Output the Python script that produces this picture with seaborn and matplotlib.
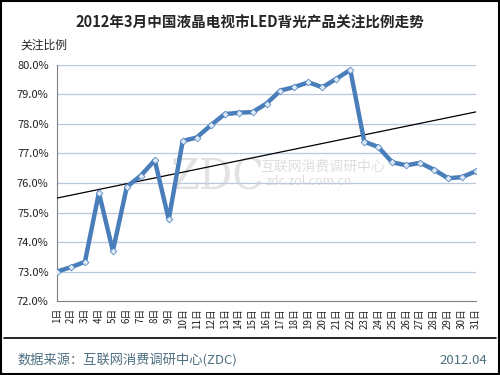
import matplotlib
matplotlib.use("Agg")
import matplotlib.pyplot as plt
import numpy as np
import pandas as pd
import seaborn as sns

days = [f"{i}日" for i in range(1, 32)]
share = [73.0, 73.15, 73.33, 75.67, 73.7, 75.87, 76.25, 76.77, 74.77, 77.42,
         77.54, 77.95, 78.33, 78.38, 78.4, 78.69, 79.13, 79.25, 79.41, 79.24,
         79.53, 79.83, 77.4, 77.22, 76.7, 76.6, 76.68, 76.45, 76.16, 76.2, 76.4]
y_ticks = [72, 73, 74, 75, 76, 77, 78, 79, 80]

sns.set_style("white")
plt.rcParams['font.family'] = ['Noto Sans CJK SC', 'DejaVu Sans']

df = pd.DataFrame({"x": np.arange(1, 32), "day": days, "share": share})

fig = plt.figure(figsize=(5, 3.75), dpi=100)
ax = fig.add_axes([0.114, 0.197, 0.838, 0.63])

for t in y_ticks[1:]:
    ax.axhline(t, color="#b9c7dc", lw=0.9, zorder=0)

# trend line (linear fit)
k, b = np.polyfit(df["x"], df["share"], 1)
ax.plot([1, 31], [k * 1 + b, k * 31 + b], color="black", lw=0.9, zorder=3)

sns.lineplot(data=df, x="x", y="share", ax=ax, color="#4a7ebb", lw=3.2,
             marker="D", markersize=3.5, markerfacecolor="#dce8f5",
             markeredgecolor="#4a7ebb", markeredgewidth=0.5, zorder=4)

# watermark
ax.text(12.5, 76.2, "ZDC", fontsize=30, color="#d0d0d0", alpha=0.6,
        ha="center", va="center", zorder=1, family="DejaVu Serif")
ax.text(20, 76.55, "互联网消费调研中心", fontsize=10, color="#d0d0d0",
        alpha=0.7, ha="center", va="center", zorder=1)
ax.text(19, 76.05, "zdc.zol.com.cn", fontsize=9, color="#d0d0d0",
        alpha=0.7, ha="center", va="center", zorder=1)

ax.set_xlim(1, 31)
ax.set_ylim(72, 80)
ax.set_yticks(y_ticks)
ax.set_yticklabels([f"{t:.1f}%" for t in y_ticks], fontsize=8, color="#222222")
ax.set_xticks(df["x"])
ax.set_xticklabels(days, rotation=90, fontsize=7, color="#222222")
ax.tick_params(axis="x", direction="out", length=3, width=0.6, color="#808080", pad=2)
ax.tick_params(axis="y", length=0, pad=6)
ax.set_xlabel("")
ax.set_ylabel("")
for s in ["top", "right"]:
    ax.spines[s].set_visible(False)
for s in ["left", "bottom"]:
    ax.spines[s].set_color("#808080")
    ax.spines[s].set_linewidth(0.8)

fig.text(0.5, 0.94, "2012年3月中国液晶电视市LED背光产品关注比例走势",
         ha="center", va="center", fontsize=10.5, fontweight="bold")
fig.text(0.04, 0.88, "关注比例", ha="left", va="center", fontsize=8.5)

# footer
fig.add_artist(plt.Line2D([0.008, 0.992], [0.098, 0.098], color="black", lw=1.2,
                          transform=fig.transFigure))
fig.text(0.035, 0.04, "数据来源：互联网消费调研中心(ZDC)", ha="left", va="center",
         fontsize=9.5, color="#4d6f80")
fig.text(0.975, 0.04, "2012.04", ha="right", va="center", fontsize=9.5,
         color="#4d6f80")

fig.add_artist(plt.Rectangle((0.002, 0.003), 0.996, 0.994, fill=False,
                             edgecolor="black", lw=1.5, transform=fig.transFigure))

fig.savefig("out.png", dpi=100)
